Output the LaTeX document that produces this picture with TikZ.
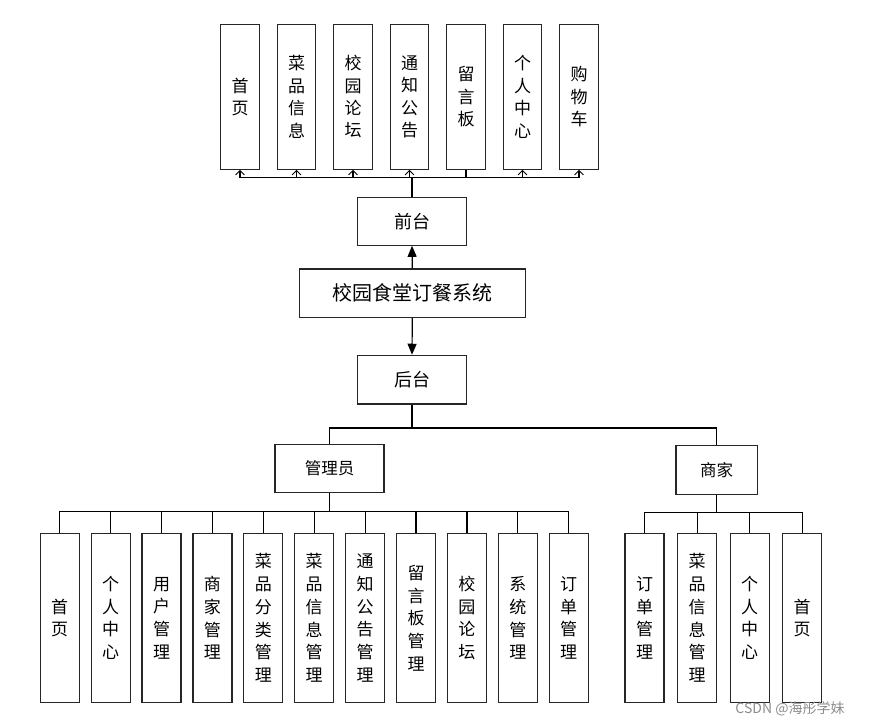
\documentclass[tikz,border=0pt]{standalone}
\usepackage{fontspec}
\setmainfont{Noto Sans CJK SC}
\usetikzlibrary{arrows.meta}
\begin{document}
\begin{tikzpicture}
[x=1pt,y=-1pt,line width=1.2pt,
 box/.style={draw=black!85,fill=white,inner sep=0pt,align=center},
 tbox/.style={box,minimum width=38.7pt,minimum height=145pt,font=\fontsize{17}{22.4}\selectfont},
 bbox/.style={box,minimum width=39pt,minimum height=169.4pt,font=\fontsize{17}{22.7}\selectfont},
 tip/.style={-{Straight Barb[length=4.5pt,width=9pt,line width=0.8pt]}}]
\useasboundingbox (0,0) rectangle (873,727);
% front end
\node [tbox] (t1) at (240,96.8) {首\\页};
\node [tbox] (t2) at (296.5,96.8) {菜\\品\\信\\息};
\node [tbox] (t3) at (353,96.8) {校\\园\\论\\坛};
\node [tbox] (t4) at (409.5,96.8) {通\\知\\公\\告};
\node [tbox] (t5) at (466,96.8) {留\\言\\板};
\node [tbox] (t6) at (522.5,96.8) {个\\人\\中\\心};
\node [tbox] (t7) at (579,96.8) {购\\物\\车};
\node [box,minimum width=109pt,minimum height=48pt,font=\fontsize{18}{20}\selectfont] (qt) at (412,221.2) {前台};
\node [box,minimum width=226pt,minimum height=48.3pt,font=\fontsize{20}{22}\selectfont] (sys) at (412.3,293.2) {校园食堂订餐系统};
\node [box,minimum width=109.4pt,minimum height=48.7pt,font=\fontsize{18}{20}\selectfont] (ht) at (412,379.7) {后台};
\node [box,minimum width=109pt,minimum height=48.4pt,font=\fontsize{16.5}{20}\selectfont] (gly) at (329.5,468.5) {管理员};
\node [box,minimum width=81.3pt,minimum height=48.6pt,font=\fontsize{16.5}{20}\selectfont] (sj) at (716.7,470) {商家};
% admin
\node [bbox] (a1) at (59.7,618) {首\\页};
\node [bbox] (a2) at (110.6,618) {个\\人\\中\\心};
\node [bbox] (a3) at (161.5,618) {用\\户\\管\\理};
\node [bbox] (a4) at (212.4,618) {商\\家\\管\\理};
\node [bbox] (a5) at (263.3,618) {菜\\品\\分\\类\\管\\理};
\node [bbox] (a6) at (314.2,618) {菜\\品\\信\\息\\管\\理};
\node [bbox] (a7) at (365.1,618) {通\\知\\公\\告\\管\\理};
\node [bbox] (a8) at (416,618) {留\\言\\板\\管\\理};
\node [bbox] (a9) at (466.9,618) {校\\园\\论\\坛};
\node [bbox] (a10) at (517.8,618) {系\\统\\管\\理};
\node [bbox] (a11) at (568.7,618) {订\\单\\管\\理};
% merchant
\node [bbox] (m1) at (644.5,618) {订\\单\\管\\理};
\node [bbox] (m2) at (697.1,618) {菜\\品\\信\\息\\管\\理};
\node [bbox] (m3) at (749.6,618) {个\\人\\中\\心};
\node [bbox] (m4) at (802.2,618) {首\\页};
\node [text=black!45,font=\fontsize{14}{16}\selectfont] (wm) at (790,709) {CSDN @海彤学妹};
\draw [tip] (qt.north) -- ++(0,-19) -| (t1.south);
\draw [tip] (qt.north) -- ++(0,-19) -| (t2.south);
\draw [tip] (qt.north) -- ++(0,-19) -| (t3.south);
\draw [tip] (qt.north) -- ++(0,-19) -| (t4.south);
\draw (qt.north) -- ++(0,-19) -| (t5.south);
\draw [tip] (qt.north) -- ++(0,-19) -| (t6.south);
\draw [tip] (qt.north) -- ++(0,-19) -| (t7.south);
\draw [-{Triangle[length=11pt,width=9pt]}] (sys.north) -- (qt.south);
\draw [-{Triangle[length=11pt,width=9pt]}] (sys.south) -- (ht.north);
\draw (ht.south) -- ++(0,23.3) -| (gly.north);
\draw (ht.south) -- ++(0,23.3) -| (sj.north);
\draw (gly.south) -- ++(0,18.3) -| (a1.north);
\draw (gly.south) -- ++(0,18.3) -| (a2.north);
\draw (gly.south) -- ++(0,18.3) -| (a3.north);
\draw (gly.south) -- ++(0,18.3) -| (a4.north);
\draw (gly.south) -- ++(0,18.3) -| (a5.north);
\draw (gly.south) -- ++(0,18.3) -| (a6.north);
\draw (gly.south) -- ++(0,18.3) -| (a7.north);
\draw (gly.south) -- ++(0,18.3) -| (a8.north);
\draw (gly.south) -- ++(0,18.3) -| (a9.north);
\draw (gly.south) -- ++(0,18.3) -| (a10.north);
\draw (gly.south) -- ++(0,18.3) -| (a11.north);
\draw (sj.south) -- ++(0,17.9) -| (m1.north);
\draw (sj.south) -- ++(0,17.9) -| (m2.north);
\draw (sj.south) -- ++(0,17.9) -| (m3.north);
\draw (sj.south) -- ++(0,17.9) -| (m4.north);
\end{tikzpicture}
\end{document}
